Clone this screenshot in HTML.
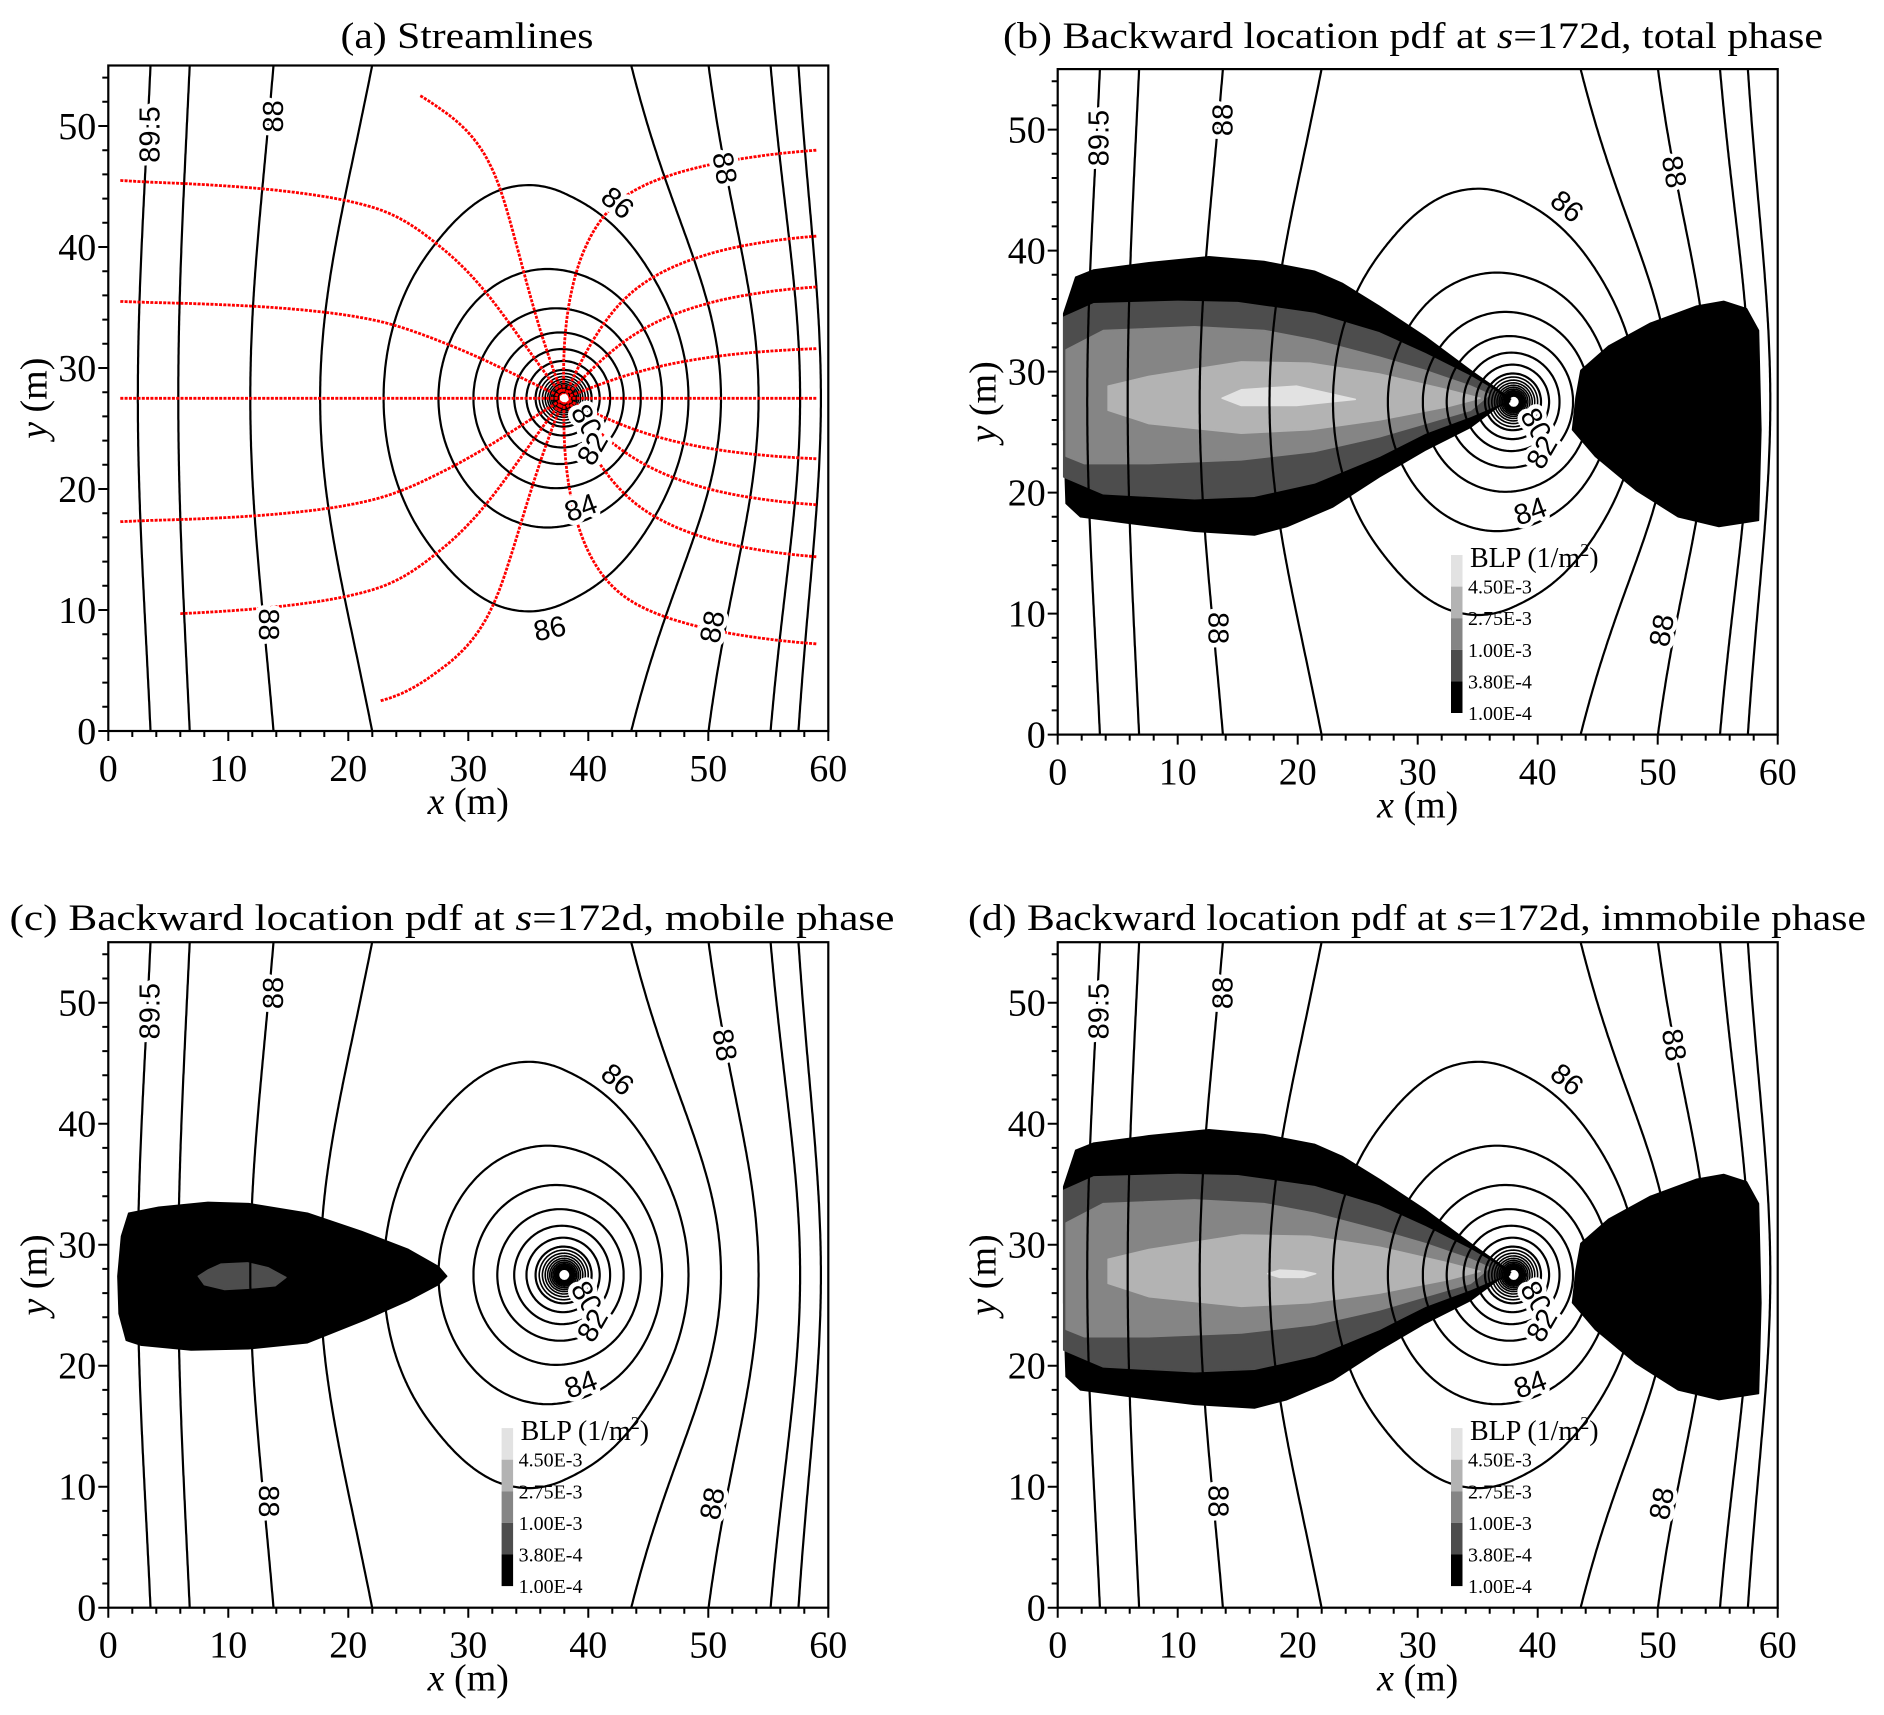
<!DOCTYPE html>
<html><head><meta charset="utf-8"><title>BLP contour figure</title>
<style>
html,body{margin:0;padding:0;background:#fff;}
svg{display:block;}
.tick{font-family:"Liberation Serif",serif;font-size:38px;fill:#000;}
.ttl{font-family:"Liberation Serif",serif;font-size:37px;fill:#000;}
.clab{font-family:"Liberation Sans",sans-serif;font-size:29px;fill:#000;stroke:#fff;stroke-width:9px;paint-order:stroke;stroke-linejoin:round;}
.leg{font-family:"Liberation Serif",serif;font-size:20px;fill:#000;}
.legt{font-family:"Liberation Serif",serif;font-size:28px;fill:#000;}
</style></head>
<body>
<svg id="fig" width="1884" height="1715" viewBox="0 0 1884 1715" xmlns="http://www.w3.org/2000/svg"></svg>
<script>
// ---- data ----
const xTicks = [0,10,20,30,40,50,60];
const yTicks = [0,10,20,30,40,50];
const contourLevels = [89.5,89,88,87,86,85,84,83,82,81,80,79.5,79,78.5,78,77.5,77,76.5,76,75.5,75,74.5,74];
const bgX = [0,3.5,6.8,13.8,22,28,33,38,43.6,50,55.2,57.5,60];
const bgH = [90,89.71,89.23,88.29,87.38,87.1,87.0,87.1,87.48,88.42,89.37,89.84,90.4];
const wellXY = [38,27.5];
const wellAmp = [1.9,15];
const streamStarts = [[1,45.5],[1,35.5],[1,27.5],[1,17.3],[6,9.7],[59,48],[59,40.9],[59,36.7],[59,31.6],[59,27.5],[59,22.5],[59,18.7],[59,14.4],[59,7.2],[26,52.5],[22.7,2.5]];
const legendLabels = ["4.50E-3","2.75E-3","1.00E-3","3.80E-4","1.00E-4"];
const legendColors = ["#e2e2e2","#b3b3b3","#858585","#4d4d4d","#000000"];
const blobTotalBlack = [[0.5,34.8],[1.5,37.8],[3,38.4],[7.6,39],[12.6,39.5],[17.2,39.1],[21.4,38.3],[23.7,37.3],[26.8,35.4],[30.6,32.9],[34.4,30.1],[36.7,28.5],[37.9,27.6],[36.7,27.1],[34.4,25.4],[30.6,23.5],[26.8,21.3],[22.9,18.8],[19.1,17.2],[16.4,16.5],[11.4,16.8],[5.7,17.5],[1.9,18],[0.7,19.1],[0.5,25.2]];
const blobTotalDark = [[0.5,34.5],[3,35.6],[10,35.8],[15,35.7],[21.4,34.8],[26.8,33.2],[30.6,31.5],[34.4,29.6],[36.3,28.5],[37.5,27.6],[34.4,26.3],[30.6,24.9],[26.8,23],[21.4,20.8],[16.4,19.7],[11.4,19.5],[3.8,19.9],[0.5,21.3]];
const blobTotalMid = [[0.7,31.8],[3.8,33.4],[11.4,33.7],[17.2,33.4],[21.4,32.6],[26.8,31.2],[30.6,30.1],[34.4,28.8],[36,28.1],[34.4,26.8],[30.6,25.7],[26.8,24.6],[21.4,23.4],[15.3,22.7],[7.6,22.4],[2.2,22.4],[0.7,23]];
const blobTotalLight = [[4.2,28.8],[7.6,29.6],[15.3,30.8],[21,30.7],[26.8,29.8],[32.5,28.5],[35.2,27.8],[32.5,27.1],[26.8,26],[21,25.2],[15.3,24.9],[7.6,25.7],[4.2,26.8]];
const blobTotalLightest = [[13.7,27.8],[15.3,28.5],[19.9,28.8],[24.8,27.7],[19.9,27.2],[15.3,27.2]];
const blobImmLightest = [[17.5,27.6],[18.5,27.9],[20.5,27.8],[21.5,27.6],[20.5,27.3],[18.5,27.3]];
const blobRight = [[43.2,27.9],[43.6,30.1],[45.9,32.1],[49.4,34],[53.2,35.4],[55.5,35.8],[57.4,35.2],[58.4,33.4],[58.6,25.2],[58.4,17.7],[55.1,17.2],[51.7,18],[48.2,20.2],[44.8,23],[42.9,25.2]];
const blobMobileBlack = [[1.7,32.6],[4.2,33.1],[8.3,33.5],[11.7,33.4],[16.6,32.6],[21.1,31.1],[25,29.6],[27.5,28.2],[28.2,27.4],[27.5,26.7],[25,25.4],[21.4,23.8],[16.6,21.9],[11.7,21.4],[6.9,21.3],[2.7,21.7],[1.5,22.1],[0.9,24.3],[0.8,27.4],[1.1,30.7]];
const blobMobileGrey = [[7.5,27.4],[8.3,27.9],[9.4,28.4],[11.6,28.5],[13.3,28.1],[14.8,27.3],[13.9,26.6],[11.6,26.4],[9.7,26.3],[8,26.7]];
const labelsCommon = [["89.5",3.5,49.3,-90],["88",13.8,50.8,-90],["88",13.3,8.8,90],["88",51.3,46.5,80],["88",50.4,8.6,-80],["86",42.4,43.6,40],["80",39.8,25.6,60],["82",40.4,23.3,-60],["84",39.4,18.4,-20]];
const labelsExtraA = [["86",36.8,8.4,-12]];

// ---- layout ----
const SX=12, SY=12.1, XMAX=60, YMAX=55;
const NS='http://www.w3.org/2000/svg';
const svg=document.getElementById('fig');
function el(tag,attrs,parent){const e=document.createElementNS(NS,tag);for(const k in attrs)e.setAttribute(k,attrs[k]);(parent||svg).appendChild(e);return e;}

// smooth (cubic Hermite) interpolation of background head
const bgM = bgX.map((x,i)=>{const a=Math.max(0,i-1),b=Math.min(bgX.length-1,i+1);return (bgH[b]-bgH[a])/(bgX[b]-bgX[a]);});
function bg(x){
  if(x<=bgX[0])return bgH[0]+bgM[0]*(x-bgX[0]);
  for(let i=1;i<bgX.length;i++){
    if(x<=bgX[i]){const h=bgX[i]-bgX[i-1],t=(x-bgX[i-1])/h,t2=t*t,t3=t2*t;
      return (2*t3-3*t2+1)*bgH[i-1]+(t3-2*t2+t)*h*bgM[i-1]+(-2*t3+3*t2)*bgH[i]+(t3-t2)*h*bgM[i];}
  }
  const n=bgX.length-1; return bgH[n]+bgM[n]*(x-bgX[n]);
}
function head(x,y){ const r2=(x-wellXY[0])**2+(y-wellXY[1])**2+1e-6; return bg(x)-wellAmp[0]*Math.log(1+wellAmp[1]*wellAmp[1]/r2); }

// grid
const D=0.2, NX=Math.round(XMAX/D), NY=Math.round(YMAX/D);
const G=[]; for(let j=0;j<=NY;j++){const row=[];for(let i=0;i<=NX;i++)row.push(head(i*D,j*D));G.push(row);}
function contourSegs(L){
  const segs=[];
  for(let j=0;j<NY;j++)for(let i=0;i<NX;i++){
    const a=G[j][i],b=G[j][i+1],c=G[j+1][i+1],d=G[j+1][i];
    const P=[]; const x0=i*D,y0=j*D;
    if((a>L)!=(b>L)){const t=(L-a)/(b-a);P.push([x0+t*D,y0]);}
    if((b>L)!=(c>L)){const t=(L-b)/(c-b);P.push([x0+D,y0+t*D]);}
    if((c>L)!=(d>L)){const t=(L-c)/(d-c);P.push([x0+D-t*D,y0+D]);}
    if((d>L)!=(a>L)){const t=(L-d)/(a-d);P.push([x0,y0+D-t*D]);}
    if(P.length===2)segs.push([P[0],P[1]]);
    else if(P.length===4){segs.push([P[0],P[1]]);segs.push([P[2],P[3]]);}
  }
  return segs;
}
const levelSegs=contourLevels.map(contourSegs);

function streamline(s){
  let x=s[0],y=s[1]; const pts=[[x,y]];
  for(let k=0;k<4000;k++){
    const h=0.01; const gx=(head(x+h,y)-head(x-h,y))/(2*h), gy=(head(x,y+h)-head(x,y-h))/(2*h);
    const n=Math.hypot(gx,gy)||1; x-=0.08*gx/n; y-=0.08*gy/n;
    if(x<0||x>XMAX||y<0||y>YMAX)break; pts.push([x,y]);
    if(Math.hypot(x-wellXY[0],y-wellXY[1])<0.4)break;
  }
  return pts;
}

const panels=[
 {id:'a',ox:108.3,oy:731,title:['(a) Streamlines'],tx:467,tw:253,ty:48},
 {id:'b',ox:1057.7,oy:734.6,title:['(b) Backward location pdf at ','s','=172d, total phase'],tx:1413,tw:820,ty:48},
 {id:'c',ox:108.3,oy:1607.7,title:['(c) Backward location pdf at ','s','=172d, mobile phase'],tx:452,tw:885,ty:930},
 {id:'d',ox:1057.7,oy:1607.7,title:['(d) Backward location pdf at ','s','=172d, immobile phase'],tx:1417,tw:898,ty:930}
];

panels.forEach(p=>{
  const X=v=>p.ox+v*SX, Y=v=>p.oy-v*SY;
  const g=el('g',{});
  
  
  const t=el('text',{class:'ttl',x:p.tx,y:p.ty,'text-anchor':'middle',textLength:p.tw,lengthAdjust:'spacingAndGlyphs'},g);
  
  
  p.title.forEach((s,i)=>{const ts=el('tspan',i===1?{'font-style':'italic'}:{},t);ts.textContent=s;});
  const cp=el('clipPath',{id:'clip'+p.id},g);
  el('rect',{x:X(0),y:Y(YMAX),width:XMAX*SX,height:YMAX*SY},cp);
  const plot=el('g',{'clip-path':'url(#clip'+p.id+')'},g);
  
  
  function poly(pts,fill,name){const d='M'+pts.map(q=>X(q[0]).toFixed(1)+','+Y(q[1]).toFixed(1)).join('L')+'Z';const e=el('path',{d:d,fill:fill,stroke:fill,'stroke-width':1.5,'stroke-linejoin':'round'},plot);}
  if(p.id==='b'||p.id==='d'){
    poly(blobTotalBlack,legendColors[4],'blp-region-black');
    poly(blobTotalDark,legendColors[3],'blp-region-dark');
    poly(blobTotalMid,legendColors[2],'blp-region-mid');
    poly(blobTotalLight,legendColors[1],'blp-region-light');
    poly(p.id==='b'?blobTotalLightest:blobImmLightest,legendColors[0],'blp-region-lightest');
    poly(blobRight,legendColors[4],'blp-region-right');
  }
  if(p.id==='c'){
    poly(blobMobileBlack,legendColors[4],'blp-region-black');
    poly(blobMobileGrey,legendColors[3],'blp-region-dark');
  }
  levelSegs.forEach((segs,li)=>{
    let d=''; segs.forEach(s=>{d+='M'+X(s[0][0]).toFixed(1)+','+Y(s[0][1]).toFixed(1)+'L'+X(s[1][0]).toFixed(1)+','+Y(s[1][1]).toFixed(1);});
    const e=el('path',{d:d,fill:'none',stroke:'#000','stroke-width':contourLevels[li]<80?1.6:2.2,'stroke-linecap':'round'},plot);
    
    
  });
  if(p.id==='a'){
    streamStarts.forEach(s=>{
      const pts=streamline(s);
      const d='M'+pts.map(q=>X(q[0]).toFixed(1)+','+Y(q[1]).toFixed(1)).join('L');
      const e=el('path',{d:d,fill:'none',stroke:'#ff0000','stroke-width':2.8,'stroke-dasharray':'3 1.3'},plot);
      
      
    });
  }
  const w=el('circle',{cx:X(wellXY[0]),cy:Y(wellXY[1]),r:3.5,fill:'#fff'},plot);
  
  
  const labs=p.id==='a'?labelsCommon.concat(labelsExtraA):labelsCommon;
  labs.forEach(l=>{
    const e=el('text',{class:'clab',x:X(l[1]),y:Y(l[2]),'text-anchor':'middle','dominant-baseline':'central',transform:'rotate('+l[3]+' '+X(l[1])+' '+Y(l[2])+')'},plot);
    e.textContent=l[0];
    
    
  });
  const fr=el('rect',{x:X(0),y:Y(YMAX),width:XMAX*SX,height:YMAX*SY,fill:'none',stroke:'#000','stroke-width':2.2},g);
  
  
  let td='';
  for(let v=0;v<=XMAX;v+=2){const L=v%10===0?10:6;td+='M'+X(v)+','+Y(0)+'v'+L;}
  for(let v=0;v<=54;v+=2){const L=v%10===0?10:6;td+='M'+X(0)+','+Y(v)+'h'+(-L);}
  const tk=el('path',{d:td,stroke:'#000','stroke-width':2,fill:'none'},g);
  
  
  xTicks.forEach(v=>{const e=el('text',{class:'tick',x:X(v),y:Y(0)+50,'text-anchor':'middle'},g);e.textContent=v;});
  yTicks.forEach(v=>{const e=el('text',{class:'tick',x:X(0)-12,y:Y(v)+13,'text-anchor':'end'},g);e.textContent=v;});
  const xt=el('text',{class:'tick',x:X(30),y:Y(0)+83,'text-anchor':'middle'},g);
  xt.innerHTML='<tspan font-style="italic">x</tspan> (m)';
  
  
  const yx=X(0)-62, yy=Y(27.5);
  const yt=el('text',{class:'tick',x:yx,y:yy,'text-anchor':'middle',transform:'rotate(-90 '+yx+' '+yy+')'},g);
  yt.innerHTML='<tspan font-style="italic">y</tspan> (m)';
  
  
  if(p.id!=='a'){
    const lx=p.ox+393.3, ly=p.oy-179.6;
    const lg=el('g',{},g);
    
    
    const lt=el('text',{class:'legt',x:lx+19,y:ly+12},lg);
    lt.innerHTML='BLP (1/m<tspan font-size="18" dy="-11">2</tspan><tspan dy="11">)</tspan>';
    
    
    const sh=31.6;
    legendColors.forEach((c,i)=>{
      const r=el('rect',{x:lx,y:ly+i*sh,width:11.5,height:sh,fill:c},lg);
      
      
    });
    legendLabels.forEach((s,i)=>{
      const e=el('text',{class:'leg',x:lx+17,y:ly+(i+1)*sh+7},lg);
      e.textContent=s;
      
      
    });
  }
});
</script>
</body></html>
